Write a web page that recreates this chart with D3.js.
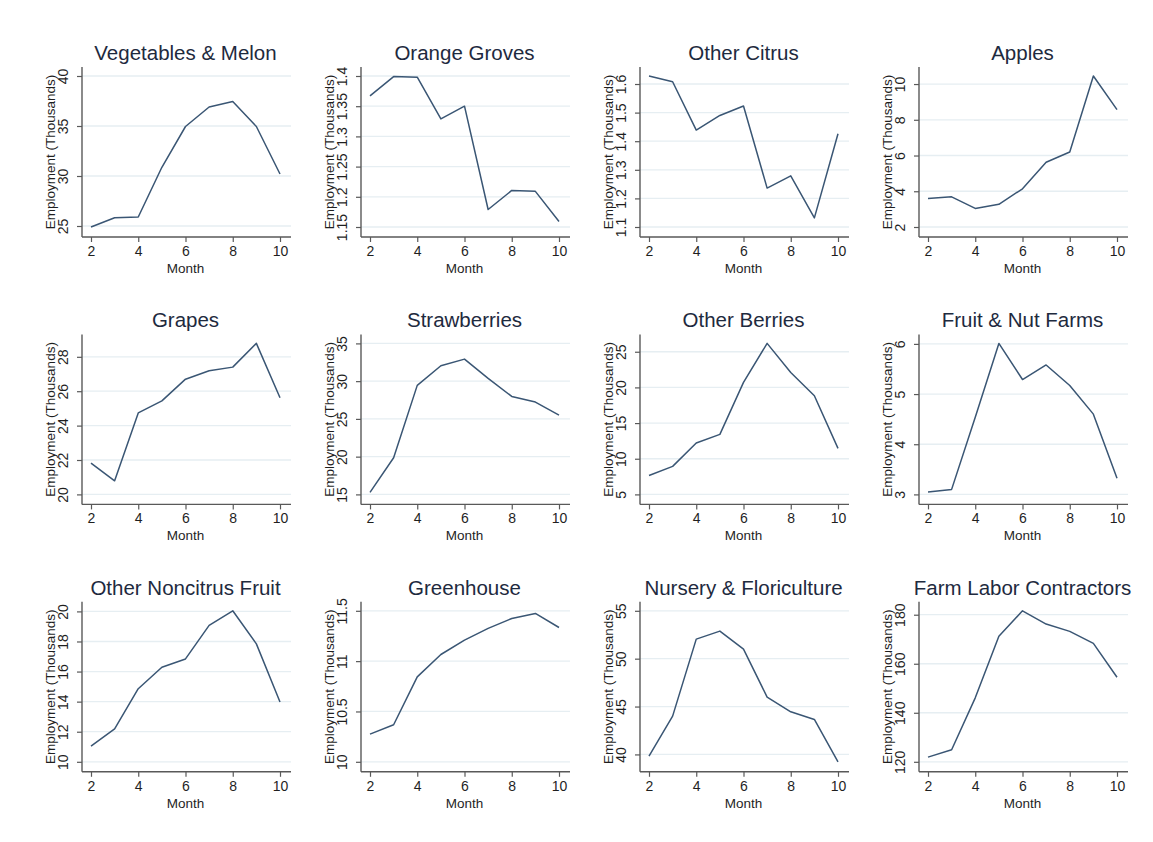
<!DOCTYPE html>
<meta charset="utf-8">
<html>
<head>
<script src="https://d3js.org/d3.v7.min.js"></script>
<style>
  body { margin: 0; background: #fff; }
  text { font-family: "Liberation Sans", Arial, sans-serif; }
</style>
</head>
<body>
<div id="my_dataviz"></div>
<script>

// months on the x axis
var months = [2, 3, 4, 5, 6, 7, 8, 9, 10];
var xTicks = [2, 4, 6, 8, 10];

// panel titles
var titles = ["Vegetables & Melon", "Orange Groves", "Other Citrus", "Apples",
  "Grapes", "Strawberries", "Other Berries", "Fruit & Nut Farms",
  "Other Noncitrus Fruit", "Greenhouse", "Nursery & Floriculture", "Farm Labor Contractors"];

// employment (thousands) by month, one array per panel
var vegetables   = [24.9, 25.83, 25.9, 30.87, 34.95, 36.9, 37.45, 34.95, 30.2];
var oranges      = [1.367, 1.399, 1.398, 1.329, 1.35, 1.179, 1.2105, 1.209, 1.159];
var otherCitrus  = [1.628, 1.608, 1.439, 1.49, 1.523, 1.236, 1.279, 1.132, 1.426];
var apples       = [3.6, 3.69, 3.04, 3.27, 4.14, 5.62, 6.2, 10.45, 8.57];
var grapes       = [21.82, 20.79, 24.74, 25.44, 26.7, 27.19, 27.4, 28.78, 25.62];
var strawberries = [15.26, 19.86, 29.44, 32.04, 32.92, 30.36, 27.98, 27.23, 25.51];
var otherBerries = [7.66, 8.93, 12.2, 13.41, 20.7, 26.17, 22.1, 18.83, 11.45];
var fruitNut     = [3.05, 3.1, 4.54, 6.01, 5.29, 5.58, 5.17, 4.6, 3.32];
var noncitrus    = [11.04, 12.19, 14.86, 16.29, 16.84, 19.07, 20.04, 17.84, 13.97];
var greenhouse   = [10.275, 10.368, 10.844, 11.066, 11.209, 11.325, 11.424, 11.474, 11.334];
var nursery      = [39.83, 44.0, 52.04, 52.88, 51.0, 45.99, 44.45, 43.65, 39.23];
var laborContr   = [121.9, 124.9, 146.1, 171.2, 181.6, 176.2, 173.2, 168.3, 154.5];

// y tick labels per panel
var yTicks = [
  [25, 30, 35, 40],
  [1.15, 1.2, 1.25, 1.3, 1.35, 1.4],
  [1.1, 1.2, 1.3, 1.4, 1.5, 1.6],
  [2, 4, 6, 8, 10],
  [20, 22, 24, 26, 28],
  [15, 20, 25, 30, 35],
  [5, 10, 15, 20, 25],
  [3, 4, 5, 6],
  [10, 12, 14, 16, 18, 20],
  [10, 10.5, 11, 11.5],
  [40, 45, 50, 55],
  [120, 140, 160, 180]
];

var series = [vegetables, oranges, otherCitrus, apples, grapes, strawberries,
  otherBerries, fruitNut, noncitrus, greenhouse, nursery, laborContr];

var width = 1153, height = 842;
var colStep = 279, rowStep = 267.4;
var plotW = 209, plotH = 170;

var svg = d3.select("#my_dataviz")
  .append("svg")
    .attr("width", width)
    .attr("height", height);

series.forEach(function(values, i) {
  var col = i % 4, row = Math.floor(i / 4);
  var left = 82 + col * colStep, top = 67 + row * rowStep;

  var g = svg.append("g")
    .attr("transform", "translate(" + left + "," + top + ")");

  var x = d3.scaleLinear().domain([2, 10]).range([9, plotW - 11]);

  var ticks = yTicks[i];
  var lo = Math.min(d3.min(ticks), d3.min(values));
  var hi = Math.max(d3.max(ticks), d3.max(values));
  var y = d3.scaleLinear().domain([lo, hi]).range([plotH - 10, 9]);

  // grid lines
  g.selectAll(".grid")
    .data(ticks)
    .enter().append("line")
      .attr("x1", 0).attr("x2", plotW)
      .attr("y1", function(d) { return y(d); })
      .attr("y2", function(d) { return y(d); })
      .attr("stroke", "#e6eef2")
      .attr("stroke-width", 1.3);

  // x axis
  var xAxis = g.append("g")
    .attr("transform", "translate(0," + plotH + ")")
    .call(d3.axisBottom(x).tickValues(xTicks).tickSize(5).tickPadding(4).tickFormat(d3.format("d")));
  xAxis.select(".domain").attr("d", "M0,0H" + plotW);

  // y axis
  var yAxis = g.append("g")
    .call(d3.axisLeft(y).tickValues(ticks).tickSize(5).tickPadding(0).tickFormat(function(d) { return String(d); }));
  yAxis.select(".domain").attr("d", "M0,0V" + plotH);
  yAxis.selectAll(".tick text")
    .attr("x", 0).attr("dy", 0)
    .attr("text-anchor", "middle")
    .attr("transform", "translate(-14,0) rotate(-90)")
    .attr("dominant-baseline", "auto");

  [xAxis, yAxis].forEach(function(a) {
    a.selectAll(".domain").attr("stroke", "#595959").attr("stroke-width", 1.4);
    a.selectAll(".tick line").attr("stroke", "#595959").attr("stroke-width", 1.2);
    a.selectAll(".tick text").attr("fill", "#1f1f1f").style("font-size", "14px")
      .style("font-family", "'Liberation Sans', Arial, sans-serif");
  });

  // the line
  var line = d3.line()
    .x(function(d, j) { return x(months[j]); })
    .y(function(d) { return y(d); });

  g.append("path")
    .datum(values)
    .attr("fill", "none")
    .attr("stroke", "#3a5674")
    .attr("stroke-width", 1.5)
    .attr("stroke-linejoin", "round")
    .attr("d", line);

  // title
  g.append("text")
    .attr("x", plotW / 2 - 1)
    .attr("y", -7)
    .attr("text-anchor", "middle")
    .attr("fill", "#1e2a3e")
    .style("font-size", "20.5px")
    .text(titles[i]);

  // axis titles
  g.append("text")
    .attr("x", plotW / 2 - 1)
    .attr("y", plotH + 36)
    .attr("text-anchor", "middle")
    .attr("fill", "#1f1f1f")
    .style("font-size", "13.5px")
    .text("Month");

  g.append("text")
    .attr("transform", "translate(-27," + (plotH / 2) + ") rotate(-90)")
    .attr("text-anchor", "middle")
    .attr("fill", "#1f1f1f")
    .style("font-size", "13.5px")
    .text("Employment (Thousands)");
});

</script>
</body>
</html>
